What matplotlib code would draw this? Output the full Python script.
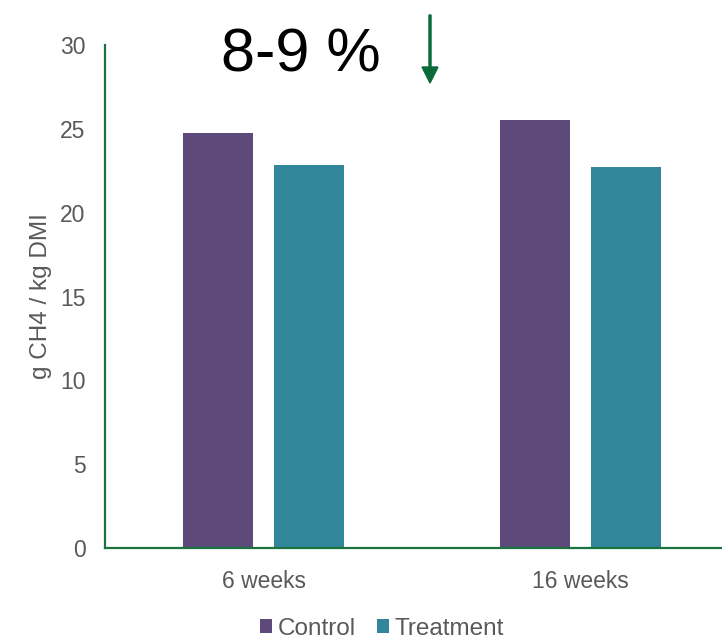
import matplotlib
matplotlib.use("Agg")
import matplotlib.pyplot as plt
import numpy as np

plt.rcParams['font.family'] = ['Liberation Sans', 'DejaVu Sans']

categories = ["6 weeks", "16 weeks"]
control = [24.75, 25.52]
treatment = [22.84, 22.72]
y_ticks = [0, 5, 10, 15, 20, 25, 30]

purple = "#5E4A7A"
teal = "#31869B"
green = "#1B7340"
gray = "#595959"

fig = plt.figure(figsize=(7.22, 6.39), dpi=100)
ax = fig.add_axes([105 / 722, 91 / 639, 617 / 722, 503 / 639])

x = np.arange(len(categories))
w = 0.221
off = 0.1435
ax.bar(x - off, control, w, color=purple, label="Control")
ax.bar(x + off, treatment, w, color=teal, label="Treatment")

ax.set_xlim(-0.5, 1.446)
ax.set_ylim(0, 30)
ax.set_yticks(y_ticks)
ax.set_xticks(x)
ax.set_xticklabels(categories)
ax.tick_params(axis='both', length=0, labelsize=16.5, labelcolor=gray)
ax.tick_params(axis='y', pad=14)
ax.tick_params(axis='x', pad=16)

for s in ["top", "right"]:
    ax.spines[s].set_visible(False)
for s in ["left", "bottom"]:
    ax.spines[s].set_color(green)
    ax.spines[s].set_linewidth(1.6)

ax.set_ylabel("g CH4 / kg DMI", fontsize=17.5, color=gray, labelpad=6)

# headline reduction annotation
fig.text(221 / 722, 1 - 71 / 639, "8-9 %", fontsize=44, color="black",
         ha="left", va="baseline")
fig.add_artist(matplotlib.patches.FancyArrow(
    430 / 722, 1 - 15 / 639, 0, -(68 / 639), width=0.0028,
    head_width=16 / 722, head_length=16 / 639, length_includes_head=True,
    color="#0B6B38", transform=fig.transFigure))

leg = fig.legend(loc="center", bbox_to_anchor=(382 / 722, 1 - 629 / 639),
                 ncol=2, frameon=False, fontsize=17.5, handlelength=0.5,
                 handleheight=0.5, handletextpad=0.25, columnspacing=0.85)
for t in leg.get_texts():
    t.set_color(gray)

fig.savefig("out.png", dpi=100)
